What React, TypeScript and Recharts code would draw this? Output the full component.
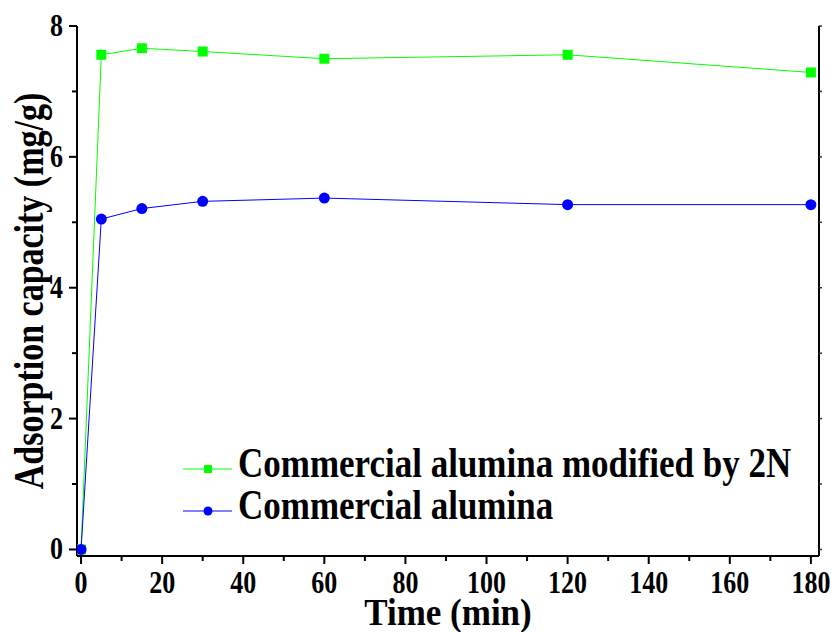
import React from 'react';
import { LineChart, Line, XAxis, YAxis, Legend } from 'recharts';

// time points (min)
const times = [0, 5, 15, 30, 60, 120, 180];
// adsorption capacity (mg/g)
const modified2N = [0, 7.56, 7.66, 7.61, 7.5, 7.56, 7.29];
const commercial = [0, 5.05, 5.21, 5.32, 5.37, 5.27, 5.27];

const xTicks = [0, 10, 20, 30, 40, 50, 60, 70, 80, 90, 100, 110, 120, 130, 140, 150, 160, 170, 180];
const yTicks = [0, 1, 2, 3, 4, 5, 6, 7, 8];

const seriesNames = ['Commercial alumina modified by 2N', 'Commercial alumina'];
const seriesColors = ['#00ff00', '#0000ff'];

const data = times.map((t, i) => ({ time: t, modified: modified2N[i], plain: commercial[i] }));

const FONT = '"Liberation Serif", "Times New Roman", serif';

// the original figure uses a tall, narrow bold serif: stretch glyphs vertically
const Tall = (props: any) => {
  const { x, y, size, sy = 1.2, anchor = 'middle', rotate = false, children } = props;
  return (
    <text
      transform={`translate(${x},${y})${rotate ? ' rotate(-90)' : ''} scale(1,${sy})`}
      textAnchor={anchor}
      fontFamily={FONT}
      fontWeight="bold"
      fontSize={size}
      fill="#000"
    >
      {children}
    </text>
  );
};

const BottomTick = (props: any) => {
  const { x, y, payload } = props;
  const major = payload.value % 20 === 0;
  return (
    <g>
      <line x1={x} x2={x} y1={y} y2={y + (major ? 8 : 5)} stroke="#000" strokeWidth={2} />
      {major && <Tall x={x} y={y + 37} size={26}>{payload.value}</Tall>}
    </g>
  );
};

const LeftTick = (props: any) => {
  const { x, y, payload } = props;
  const major = payload.value % 2 === 0;
  return (
    <g>
      <line x1={x} x2={x - (major ? 8 : 5)} y1={y} y2={y} stroke="#000" strokeWidth={2} />
      {major && <Tall x={x - 14} y={y + 10} size={26} anchor="end">{payload.value}</Tall>}
    </g>
  );
};

const TopTick = (props: any) => {
  const { x, y } = props;
  return <line x1={x} x2={x} y1={y} y2={y + 3} stroke="#333" strokeWidth={1.5} />;
};

const RightTick = (props: any) => {
  const { x, y } = props;
  return <line x1={x} x2={x + 3} y1={y} y2={y} stroke="#333" strokeWidth={1.5} />;
};

const SquareDot = (props: any) => {
  const { cx, cy, index } = props;
  return <rect key={`sq-${index}`} x={cx - 5} y={cy - 5} width={10} height={10} fill={seriesColors[0]} />;
};

const CircleDot = (props: any) => {
  const { cx, cy, index } = props;
  return <circle key={`ci-${index}`} cx={cx} cy={cy} r={5.5} fill={seriesColors[1]} />;
};

const XTitle = (props: any) => {
  const vb = props.viewBox;
  return <Tall x={vb.x + vb.width / 2} y={vb.y + 69} size={35} sy={1.06}>Time (min)</Tall>;
};

const YTitle = (props: any) => {
  const vb = props.viewBox;
  return (
    <Tall x={43} y={vb.y + vb.height / 2} size={34} sy={1.25} rotate>
      Adsorption capacity (mg/g)
    </Tall>
  );
};

const renderLegend = () => (
  <svg width={640} height={90}>
    {seriesNames.map((name, i) => {
      const cy = 29 + i * 42;
      return (
        <g key={name}>
          <line x1={3} x2={52} y1={cy} y2={cy} stroke={seriesColors[i]} strokeWidth={1} />
          {i === 0 ? (
            <rect x={24} y={cy - 4} width={8} height={8} fill={seriesColors[i]} />
          ) : (
            <circle cx={28} cy={cy} r={4.5} fill={seriesColors[i]} />
          )}
          <Tall x={58} y={cy + 8} size={35} sy={1.2} anchor="start">{name}</Tall>
        </g>
      );
    })}
  </svg>
);

export default function App() {
  return (
    <div style={{ position: 'absolute', left: 0, top: 0, width: 834, height: 632, background: '#fff' }}>
      <LineChart width={834} height={632} data={data} margin={{ top: 26, right: 0, left: 17, bottom: 0 }}>
        <XAxis
          dataKey="time"
          type="number"
          domain={[-1, 182]}
          ticks={xTicks}
          interval={0}
          allowDataOverflow
          height={76}
          tickSize={0}
          tickMargin={0}
          tickLine={false}
          tick={<BottomTick />}
          axisLine={{ stroke: '#000', strokeWidth: 2 }}
          label={XTitle}
        />
        <XAxis
          xAxisId="top"
          orientation="top"
          type="number"
          domain={[-1, 182]}
          ticks={xTicks}
          interval={0}
          allowDataOverflow
          height={0}
          tickSize={0}
          tickMargin={0}
          tickLine={false}
          tick={<TopTick />}
          axisLine={{ stroke: '#000', strokeWidth: 2 }}
        />
        <YAxis
          type="number"
          domain={[-0.1, 8]}
          ticks={yTicks}
          interval={0}
          allowDataOverflow
          width={60}
          tickSize={0}
          tickMargin={0}
          tickLine={false}
          tick={<LeftTick />}
          axisLine={{ stroke: '#000', strokeWidth: 2 }}
          label={YTitle}
        />
        <YAxis
          yAxisId="right"
          orientation="right"
          type="number"
          domain={[-0.1, 8]}
          ticks={yTicks}
          interval={0}
          allowDataOverflow
          width={15}
          tickSize={0}
          tickMargin={0}
          tickLine={false}
          tick={<RightTick />}
          axisLine={{ stroke: '#000', strokeWidth: 2 }}
        />
        <Legend
          layout="vertical"
          align="center"
          verticalAlign="middle"
          content={renderLegend}
          wrapperStyle={{ position: 'absolute', left: 180, top: 440, width: 'auto' }}
        />
        <Line
          name={seriesNames[0]}
          dataKey="modified"
          stroke={seriesColors[0]}
          strokeWidth={1}
          dot={SquareDot}
          activeDot={false}
          isAnimationActive={false}
        />
        <Line
          name={seriesNames[1]}
          dataKey="plain"
          stroke={seriesColors[1]}
          strokeWidth={1}
          dot={CircleDot}
          activeDot={false}
          isAnimationActive={false}
        />
      </LineChart>
    </div>
  );
}
